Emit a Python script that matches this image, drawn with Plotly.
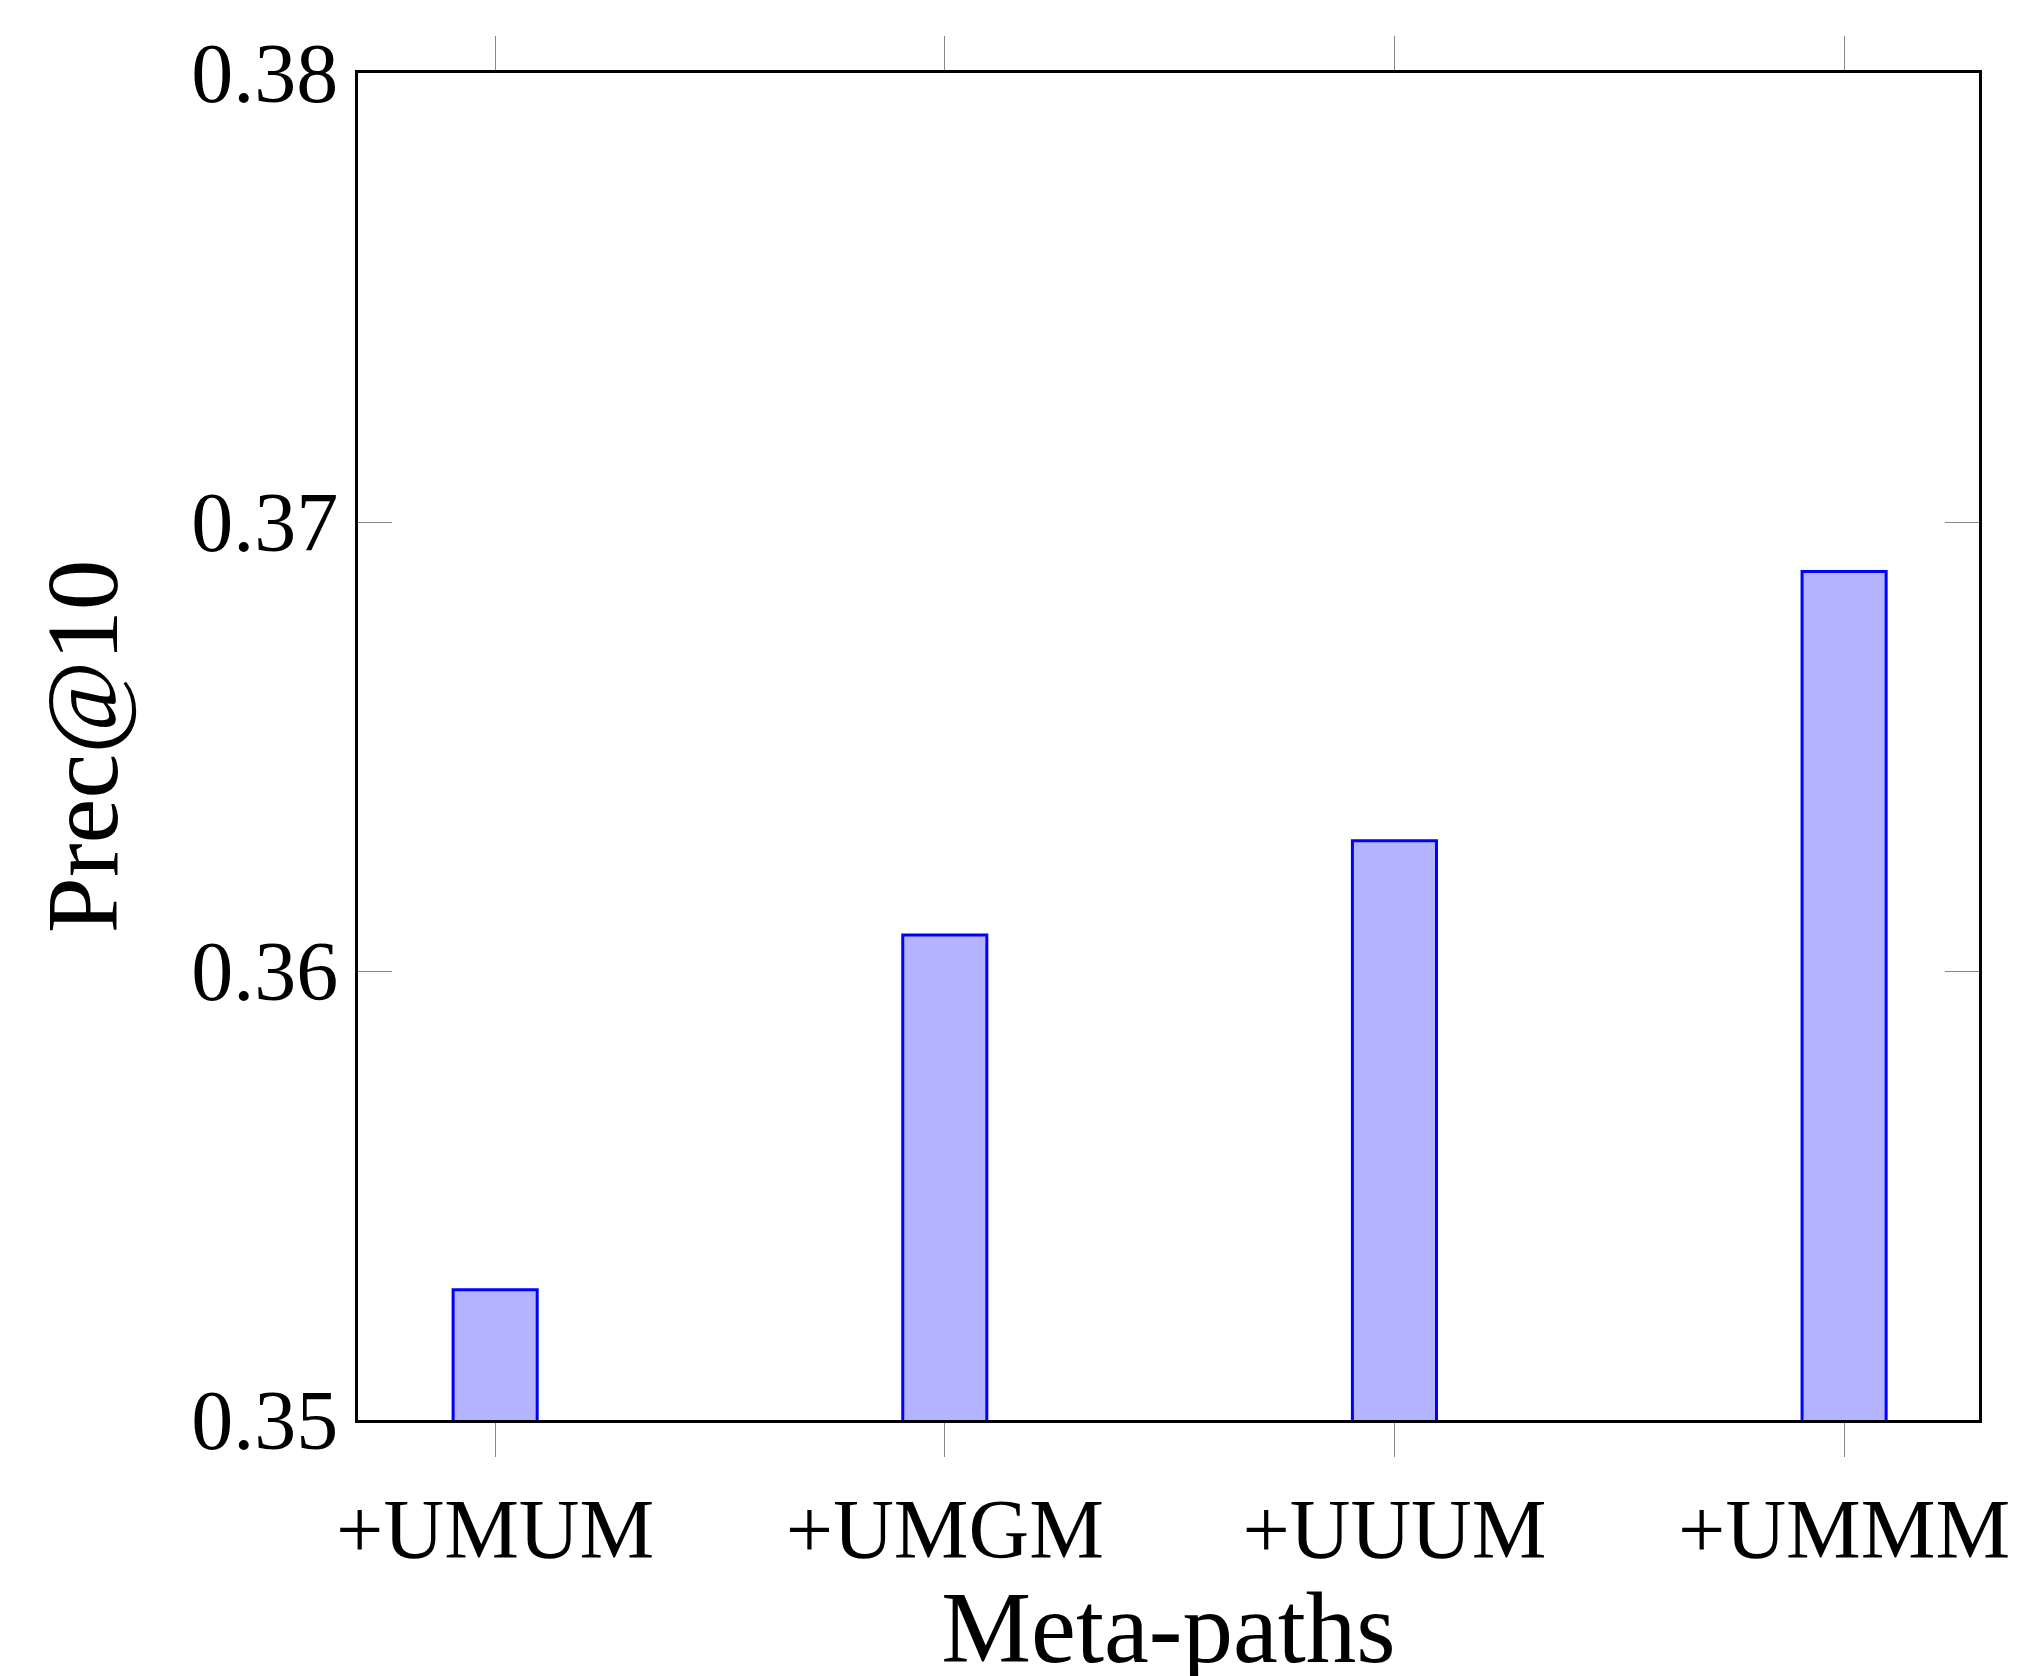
import plotly.graph_objects as go

categories = ["+UMUM", "+UMGM", "+UUUM", "+UMMM"]
values = [0.3529, 0.3608, 0.3629, 0.3689]
yticks = [0.35, 0.36, 0.37, 0.38]

font = "Liberation Serif"
fig = go.Figure(go.Bar(
    x=list(range(len(categories))), y=values, width=0.187,
    marker=dict(color="#b3b3ff", line=dict(color="#0000ff", width=3)),
))
fig.update_layout(
    width=2025, height=1676, paper_bgcolor="white", plot_bgcolor="white",
    margin=dict(l=350, r=2025-1971, t=65, b=1676-1412),
    font=dict(family=font, size=84, color="black"), showlegend=False,
)
fig.update_xaxes(range=[-0.305, 3.30], tickvals=list(range(len(categories))), ticktext=categories,
                 ticks="outside", ticklen=34, tickcolor="#888", mirror="ticks", showline=True,
                 linecolor="black", linewidth=3, showgrid=False, zeroline=False,
                 title=dict(text="Meta-paths", standoff=0))
fig.update_yaxes(range=[0.35, 0.38], tickvals=yticks, ticktext=[f"{v:.2f}" for v in yticks],
                 ticks="inside", ticklen=34, tickcolor="#888", mirror="ticks", showline=True,
                 linecolor="black", linewidth=3, showgrid=False, zeroline=False,
                 title=dict(text="Prec@10", standoff=40))
fig.write_html("out.html")
